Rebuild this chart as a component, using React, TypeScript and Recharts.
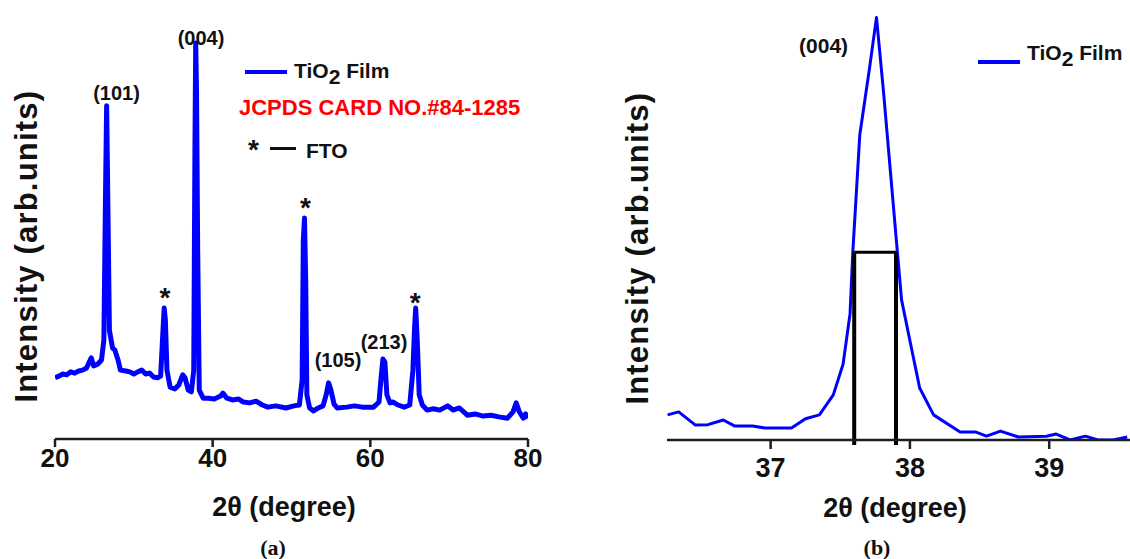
import { LineChart, Line, XAxis, YAxis, ReferenceDot, ReferenceLine } from "recharts";

// (a) full XRD scan, 2θ 20-80
const filmTheta = [
  20.0, 20.5, 21.0, 21.5, 22.0, 22.5, 23.0, 23.5, 24.0, 24.6, 24.9, 25.4, 25.9, 26.2, 26.4, 26.55, 26.7, 26.9,
  27.3, 27.6, 28.0, 28.3, 29.0, 29.5, 30.0, 30.5, 31.0, 31.5, 32.0, 32.5, 33.0, 33.4, 33.7, 33.85, 34.0, 34.2,
  34.6, 35.2, 35.7, 36.2, 36.5, 36.9, 37.3, 37.6, 37.75, 37.85, 37.95, 38.1, 38.3, 38.8, 39.5, 40.2, 41.0, 41.3,
  41.8, 42.5, 43.3, 43.9, 44.7, 45.5, 46.3, 47.0, 48.0, 49.3, 50.3, 51.0, 51.35, 51.5, 51.65, 51.8, 51.95, 52.3,
  52.8, 53.4, 54.0, 54.4, 54.7, 55.0, 55.4, 55.8, 57.0, 58.0, 59.0, 60.4, 61.1, 61.4, 61.6, 61.85, 62.1, 62.5,
  62.9, 63.5, 64.3, 65.0, 65.4, 65.6, 65.75, 65.95, 66.2, 66.6, 67.2, 68.0, 68.8, 69.8, 70.5, 71.3, 72.3, 73.3,
  74.3, 75.3, 76.3, 77.4, 78.1, 78.5, 78.9, 79.4, 79.7, 80.0,
];
const filmIntensity = [
  14.4, 14.8, 15.3, 15.1, 15.8, 15.5, 16.0, 16.2, 16.7, 19.1, 17.2, 17.6, 18.6, 23.3, 56.2, 78.4, 56.2, 25.6,
  21.4, 20.9, 18.6, 16.2, 16.0, 15.8, 15.3, 15.8, 16.2, 15.3, 15.5, 14.6, 14.4, 14.8, 25.6, 30.8, 28.0, 16.2,
  12.2, 11.8, 12.7, 15.1, 14.4, 11.5, 11.1, 16.2, 68.0, 93.2, 82.1, 44.5, 11.5, 9.6, 9.6, 9.4, 10.1, 10.8,
  9.6, 9.2, 9.4, 8.7, 8.5, 8.9, 8.0, 7.5, 7.8, 7.3, 7.8, 8.0, 13.9, 46.8, 52.0, 37.4, 10.4, 7.3,
  6.6, 7.3, 7.8, 10.4, 13.2, 11.5, 8.2, 7.3, 7.5, 7.8, 7.5, 7.5, 8.7, 15.1, 18.8, 18.1, 10.4, 8.5,
  8.7, 8.0, 7.5, 8.0, 16.2, 25.6, 30.8, 23.3, 10.4, 8.0, 6.8, 7.1, 6.8, 7.8, 6.8, 7.3, 5.6, 5.9,
  5.4, 5.6, 5.2, 4.9, 6.4, 8.5, 6.4, 4.9, 5.9, 4.9,
];
const fullTicks = [20, 40, 60, 80];
const peakNames = ["(101)", "(004)", "(105)", "(213)"];
const peakTheta = [27.8, 38.52, 55.9, 61.74];
const peakLevel = [81.4, 94.4, 18.7, 22.9];
const ftoTheta = [33.95, 51.76, 65.69];
const ftoLevel = [33.4, 54.6, 32.2];

// (b) zoom on the (004) reflection
const zoomTheta = [
  36.26, 36.34, 36.46, 36.55, 36.66, 36.74, 36.87, 36.96, 37.15, 37.25, 37.35, 37.45, 37.52, 37.57, 37.59,
  37.64, 37.71, 37.76, 37.81, 37.86, 37.91, 37.94, 38.01, 38.07, 38.17, 38.36, 38.47, 38.55, 38.65, 38.78,
  38.98, 39.05, 39.15, 39.26, 39.35, 39.46, 39.56,
];
const zoomIntensity = [
  5.9, 6.6, 3.5, 3.6, 4.7, 3.3, 3.3, 2.8, 2.8, 5.0, 5.9, 10.6, 17.8, 29.6, 44.1,
  71.6, 87.3, 99.2, 81.9, 63.0, 44.1, 32.9, 21.7, 12.2, 5.9, 1.9, 1.9, 0.9, 2.1, 0.7,
  0.9, 1.4, 0.0, 0.9, 0.0, 0.0, 0.7,
];
const zoomTicks = [37, 38, 39];
const fwhmTheta = [37.6, 37.9];
const fwhmHalfMax = 44.1;
const fwhmFoot = -1.2;

const filmData = filmTheta.map((x, i) => ({ x, y: filmIntensity[i] }));
const zoomData = zoomTheta.map((x, i) => ({ x, y: zoomIntensity[i] }));

const FONT = "'Liberation Sans', Arial, sans-serif";
const AXIS = "#1e1e1e";
const tickStyle = { fontSize: 26, fontWeight: 700, fill: "#111", fontFamily: FONT };
const peakLabelStyle = { fontSize: 20, fontWeight: 700, fill: "#111", fontFamily: FONT };

// text placed by its cap-height centre
function Txt({ x, y, size, children, color = "#111", anchor = "start", family = FONT, rotate = false, spacing = 0 }: any) {
  const shift = anchor === "middle" ? "-50%" : "0";
  return (
    <div
      style={{
        position: "absolute",
        left: x,
        top: y - 0.49 * size,
        fontSize: size,
        lineHeight: 1,
        fontWeight: 700,
        fontFamily: family,
        letterSpacing: spacing,
        color,
        whiteSpace: "nowrap",
        transform: rotate ? `translate(-50%, 0) rotate(-90deg)` : `translateX(${shift})`,
        transformOrigin: "50% 49%",
      }}
    >
      {children}
    </div>
  );
}

function TiO2Legend({ x, y, lineY }: { x: number; y: number; lineY: number }) {
  return (
    <>
      <div style={{ position: "absolute", left: x, top: lineY - 2, width: 42, height: 4, background: "#0000ff" }} />
      <Txt x={x + 49} y={y} size={21}>
        TiO<span style={{ position: "relative", top: 6 }}>2</span> Film
      </Txt>
    </>
  );
}

function FullScan() {
  return (
    <LineChart width={560} height={559} margin={{ top: 14, right: 32, bottom: 80, left: 55 }}>
      <XAxis
        dataKey="x"
        type="number"
        domain={[20, 80]}
        ticks={fullTicks}
        allowDataOverflow
        height={40}
        tickSize={8}
        tickMargin={2}
        tick={tickStyle}
        axisLine={{ stroke: AXIS, strokeWidth: 2.5 }}
        tickLine={{ stroke: AXIS, strokeWidth: 2.5 }}
      />
      <XAxis xAxisId="top" orientation="top" type="number" domain={[20, 80]} height={0} tick={false} tickLine={false} axisLine={{ stroke: AXIS, strokeWidth: 2.5 }} />
      <YAxis type="number" domain={[0, 100]} width={0} tick={false} tickLine={false} allowDataOverflow axisLine={{ stroke: AXIS, strokeWidth: 2.5 }} />
      <YAxis yAxisId="right" orientation="right" type="number" domain={[0, 100]} width={0} tick={false} tickLine={false} axisLine={{ stroke: AXIS, strokeWidth: 2.5 }} />
      <Line
        data={filmData}
        dataKey="y"
        type="linear"
        stroke="#0000ff"
        strokeWidth={5}
        strokeLinejoin="round"
        dot={false}
        isAnimationActive={false}
      />
      {peakNames.map((name, i) => (
        <ReferenceDot
          key={name}
          x={peakTheta[i]}
          y={peakLevel[i]}
          r={0}
          stroke="none"
          fill="none"
          label={{ value: name, position: "center", ...peakLabelStyle }}
        />
      ))}
      {ftoTheta.map((t, i) => (
        <ReferenceDot
          key={"fto" + i}
          x={t}
          y={ftoLevel[i]}
          r={0}
          stroke="none"
          fill="none"
          label={{ value: "*", position: "center", ...peakLabelStyle, fontSize: 28 }}
        />
      ))}
    </LineChart>
  );
}

function PeakZoom() {
  return (
    <LineChart width={570} height={559} margin={{ top: 14, right: 0, bottom: 79, left: 107 }}>
      <XAxis
        dataKey="x"
        type="number"
        domain={[36.256, 39.58]}
        ticks={zoomTicks}
        allowDataOverflow
        height={40}
        tickSize={9}
        tickMargin={9}
        tick={{ ...tickStyle, fontSize: 27 }}
        axisLine={{ stroke: AXIS, strokeWidth: 2.5 }}
        tickLine={{ stroke: AXIS, strokeWidth: 2.5 }}
      />
      <XAxis xAxisId="top" orientation="top" type="number" domain={[36.256, 39.58]} height={0} tick={false} tickLine={false} axisLine={{ stroke: AXIS, strokeWidth: 2.5 }} />
      <YAxis type="number" domain={[0, 100]} width={0} tick={false} tickLine={false} allowDataOverflow axisLine={{ stroke: AXIS, strokeWidth: 2.5 }} />
      <Line
        data={zoomData}
        dataKey="y"
        type="linear"
        stroke="#0000ff"
        strokeWidth={3}
        strokeLinejoin="round"
        dot={false}
        isAnimationActive={false}
      />
      {fwhmTheta.map((t) => (
        <ReferenceLine
          key={t}
          segment={[{ x: t, y: fwhmFoot }, { x: t, y: fwhmHalfMax }]}
          ifOverflow="visible"
          stroke="#000"
          strokeWidth={4}
        />
      ))}
      <ReferenceLine
        segment={[{ x: fwhmTheta[0], y: fwhmHalfMax }, { x: fwhmTheta[1], y: fwhmHalfMax }]}
        ifOverflow="visible"
        stroke="#000"
        strokeWidth={3}
      />
      <ReferenceDot x={37.38} y={92.7} r={0} stroke="none" fill="none" label={{ value: "(004)", position: "center", ...peakLabelStyle, fontSize: 21 }} />
    </LineChart>
  );
}

export default function App() {
  return (
    <div style={{ position: "absolute", left: 0, top: 0, width: 1130, height: 559, overflow: "hidden", background: "#fff" }}>
      <div style={{ position: "absolute", left: 0, top: 0 }}>
        <FullScan />
      </div>
      <div style={{ position: "absolute", left: 560, top: 0 }}>
        <PeakZoom />
      </div>

      {/* panel (a) texts */}
      <Txt x={26} y={246} size={31} anchor="middle" rotate spacing={1.2}>Intensity (arb.units)</Txt>
      <Txt x={284} y={507} size={27} anchor="middle">2θ (degree)</Txt>
      <Txt x={273} y={548} size={22} anchor="middle" family="'Liberation Serif', 'Times New Roman', serif">(a)</Txt>
      <TiO2Legend x={245} y={70} lineY={72} />
      <Txt x={239} y={108} size={22} color="#ff0000">JCPDS CARD NO.#84-1285</Txt>
      <Txt x={248} y={150} size={28}>*</Txt>
      <div style={{ position: "absolute", left: 270, top: 147, width: 26, height: 2.5, background: "#111" }} />
      <Txt x={306} y={150} size={21}>FTO</Txt>

      {/* panel (b) texts */}
      <Txt x={637} y={248} size={31} anchor="middle" rotate spacing={1.2}>Intensity (arb.units)</Txt>
      <Txt x={895} y={508} size={27} anchor="middle">2θ (degree)</Txt>
      <Txt x={877} y={548} size={22} anchor="middle" family="'Liberation Serif', 'Times New Roman', serif">(b)</Txt>
      <TiO2Legend x={978} y={52} lineY={62} />
    </div>
  );
}
